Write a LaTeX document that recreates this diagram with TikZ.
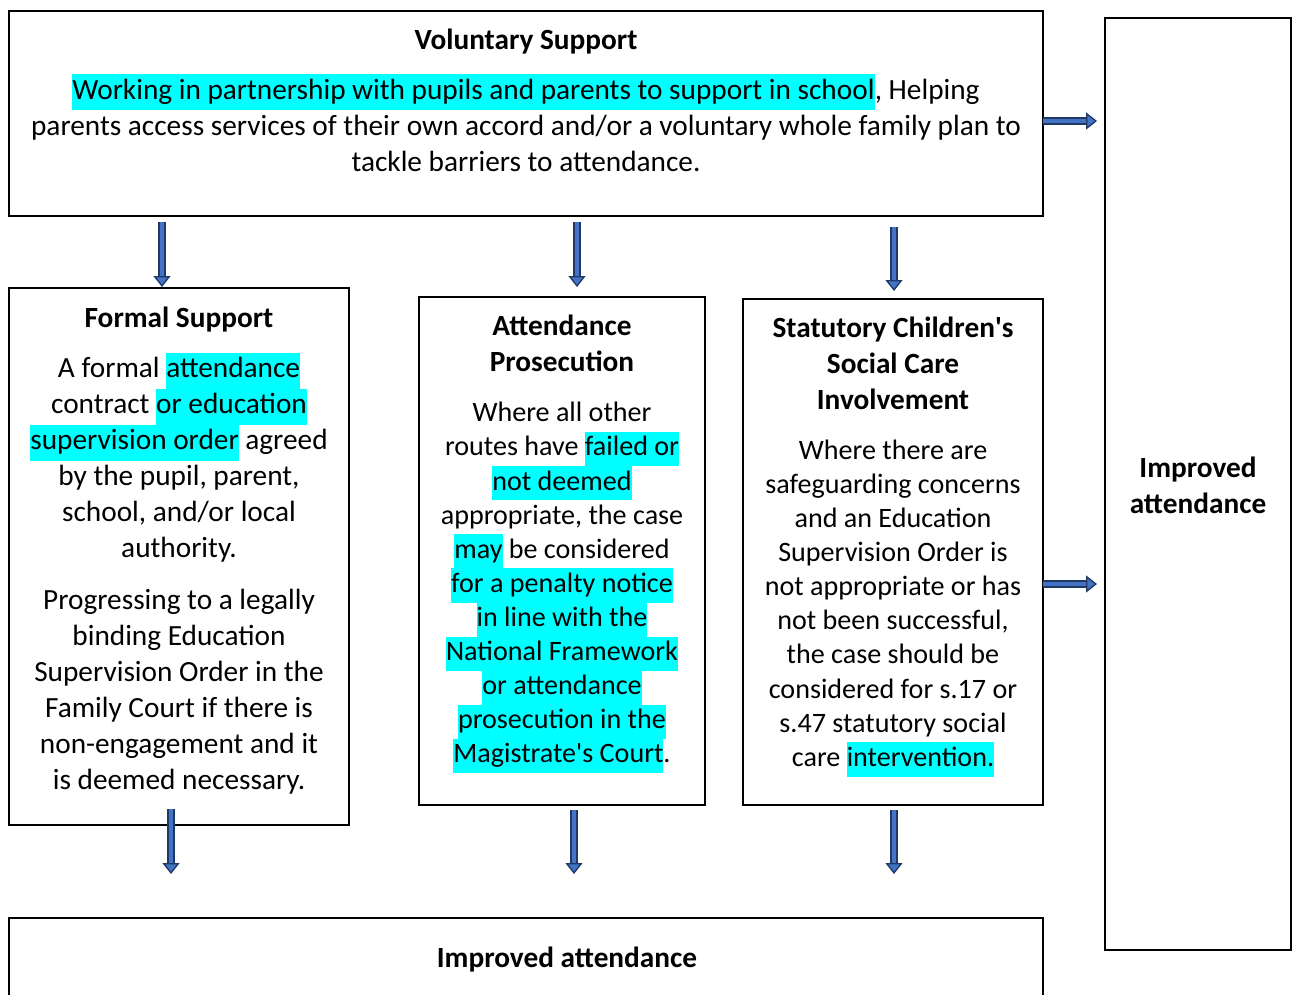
\documentclass[tikz,border=0pt]{standalone}
\usepackage{fontspec}
\setmainfont{Carlito}
\usetikzlibrary{arrows.meta}
\definecolor{arrdark}{HTML}{1F3864}
\definecolor{arrlight}{HTML}{4472C4}
\definecolor{hlcyan}{HTML}{00FFFF}
\newcommand\hl[1]{{\setlength\fboxsep{0pt}\colorbox{hlcyan}{\strut #1}}}
\newcommand\aps{\textquotesingle}
\begin{document}
\begin{tikzpicture}[x=1pt,y=-1pt,
  box/.style={draw=black,line width=1.5pt},
  txt/.style={align=center,inner sep=0pt,font=\fontsize{29.3}{36}\selectfont},
  txtb/.style={align=center,inner sep=0pt,font=\fontsize{28.1}{34.1}\selectfont},
  ttl/.style={align=center,inner sep=0pt,font=\fontsize{29.3}{36}\selectfont\bfseries},
  blk/.style={line width=7.5pt,draw=arrdark,-{Triangle[width=17pt,length=11pt,line width=1.3pt,fill=arrlight]}},
  blkin/.style={line width=4.2pt,draw=arrlight,shorten >=11pt}]
\useasboundingbox (0,0) rectangle (1296,995);
% boxes
\draw[box] (9,11) rectangle (1043,216);
\draw[box] (9,288) rectangle (349,825);
\draw[box] (419,297) rectangle (705,805);
\draw[box] (743,299) rectangle (1043,805);
\draw[box] (9,918) rectangle (1043,1010);
\draw[box] (1105,18) rectangle (1291,950);
% texts
\node[ttl] (voltitle) at (526,42) {\strut Voluntary Support};
\node[txt] (volbody) at (526,128) {\strut\hl{Working in partnership with pupils and parents to support in school}, Helping\\
parents access services of their own accord and/or a voluntary whole family plan to\\
tackle barriers to attendance.\strut};
\node[ttl] (formtitle) at (179,320) {\strut Formal Support};
\node[txt] (formA) at (179,460.5) {\strut A formal \hl{attendance}\\
contract \hl{or education}\\
\hl{supervision order} agreed\\
by the pupil, parent,\\
school, and/or local\\
authority.\strut};
\node[txt] (formB) at (179,692.5) {\strut Progressing to a legally\\
binding Education\\
Supervision Order in the\\
Family Court if there is\\
non-engagement and it\\
is deemed necessary.\strut};
\node[ttl] (prostitle) at (562,346) {\strut Attendance\\Prosecution\strut};
\node[txtb] (prosbody) at (562,585.5) {\strut Where all other\\
routes have \hl{failed or}\\
\hl{not deemed}\\
appropriate, the case\\
\hl{may} be considered\\
\hl{for a penalty notice}\\
\hl{in line with the}\\
\hl{National Framework}\\
\hl{or attendance}\\
\hl{prosecution in the}\\
\hl{Magistrate\aps s Court}.\strut};
\node[ttl] (stattitle) at (893,366) {\strut Statutory Children\aps s\\Social Care\\Involvement\strut};
\node[txtb] (statbody) at (893,606) {\strut Where there are\\
safeguarding concerns\\
and an Education\\
Supervision Order is\\
not appropriate or has\\
not been successful,\\
the case should be\\
considered for s.17 or\\
s.47 statutory social\\
care \hl{intervention.}\strut};
\node[ttl] (rightimp) at (1198,488) {\strut Improved\\attendance\strut};
\node[ttl] (botimp) at (567,960) {\strut Improved attendance};
% arrow end points
\coordinate (a1s) at (162,222); \coordinate (a1e) at (162,287);
\coordinate (a2s) at (577,222); \coordinate (a2e) at (577,287);
\coordinate (a3s) at (894,227); \coordinate (a3e) at (894,291);
\coordinate (b1s) at (171,809); \coordinate (b1e) at (171,874);
\coordinate (b2s) at (574,810); \coordinate (b2e) at (574,874);
\coordinate (b3s) at (894,810); \coordinate (b3e) at (894,874);
\coordinate (r1s) at (1043,121); \coordinate (r1e) at (1097,121);
\coordinate (r2s) at (1043,584); \coordinate (r2e) at (1097,584);
\foreach \s/\e in {a1s/a1e,a2s/a2e,a3s/a3e,b1s/b1e,b2s/b2e,b3s/b3e,r1s/r1e,r2s/r2e}{
  \draw[blk] (\s) -- (\e);
  \draw[blkin] (\s) -- (\e);
}
\end{tikzpicture}
\end{document}
